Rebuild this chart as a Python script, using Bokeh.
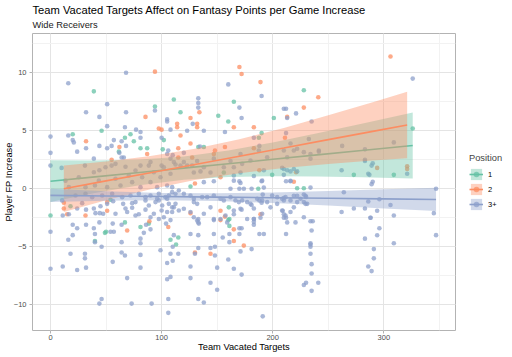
from bokeh.plotting import figure
from bokeh.layouts import row
from bokeh.models import (ColumnDataSource, Legend, LegendItem, Title, Range1d,
                          SingleIntervalTicker)
from bokeh.embed import file_html
from bokeh.resources import INLINE

# ---------------- data ----------------
groups = ["1", "2", "3+"]
colors = ["#66C2A5", "#FC8D62", "#8DA0CB"]

g1_pts = [(20,4.7),(39,8.4),(46,5.0),(67,4.4),(72,4.7),(75,4.1),(81,3.5),(87,3.5),(94,7.1),(102,4.2),
          (101,3.4),(111,7.7),(117,6.6),(133,3.6),(138,3.6),(151,6.3),(160,5.8),(165,7.5),(190,4.8),(187.5,4.4),
          (201,6.1),(228,8.5),(326,5.2),(273,1.2),(309,1.2),(61.5,3.2),(156,1.4),(126,0.2),(199.5,1.2),(222,0.05),
          (228,0.05),(187,0.0),(0,-2.3),(18,-1.5),(54,-0.95),(67,-2.9),(49,-3.8),(50,-3.7),(40,-4.5),(81,-3.3),
          (88.5,-3.0),(108,-4.4),(113,-4.8),(115,-4.2),(160,-2.7),(161,-2.6),(161,-3.2),(160.5,-1.6)]

g2_pts = [(32,4.1),(55,2.5),(62,3.6),(85.5,6.2),(87,3.0),(94,10.1),(97.5,5.2),(100,5.1),(114,5.3),(114,5.6),
          (115,3.5),(115,2.7),(117,4.6),(126,6.1),(126,3.9),(132,5.6),(132,5.3),(134,6.6),(148,3.3),(157,3.6),
          (165,5.3),(170,10.5),(172,9.9),(189,9.2),(183,5.3),(183,3.5),(213,6.2),(211,4.4),(228,7.0),(241,7.9),
          (306,11.4),(321,1.95),(321,1.7),(294,1.8),(127.5,2.7),(147,3.0),(130,0.45),(153,1.0),(219,0.6),(221,1.43),
          (188,1.6),(12,-1.2),(12,-1.7),(15,-2.2),(31.5,-2.3),(51,-1.9),(51,-1.15),(69,-3.6),(89,-2.8),(106,-3.3),
          (126,-2.1),(130,-5.5),(144,-5.6),(153,-1.9),(153,-2.7),(157,-2.4),(165,-3.5),(165,-4.5),(174,-4.9),(189,-2.2)]

g3_pts = [
    # upper area
    (0,4.5),(0,3.1),(0,2.0),(16,9.1),(16,4.6),(20,4.2),(21,4.0),(24,3.2),(32,6.6),(32,3.5),
    (39,2.6),(44,6.2),(44,3.7),(51,7.3),(51,5.4),(51,3.5),(55,3.7),(57,4.2),(62,3.1),(64,4.1),
    (64,2.7),(66,2.7),(68,10.0),(68,6.6),(67,5.3),(68,3.7),(77,5.1),(81,4.9),(81,4.4),(94,6.75),
    (100,4.4),(105,5.8),(105,6.0),(106,3.3),(105,3.0),(108,5.1),(120,3.1),(123,5.0),(128,5.6),(133,7.8),
    (133,7.4),(133,7.0),(138,5.0),(157,4.9),(160,9.0),(170,7.0),(172,6.1),(190,8.0),(183,4.4),(188,3.7),
    (210,6.9),(212,6.9),(213,6.1),(212,4.8),(221,6.5),(235,5.8),(326,9.5),(134.5,3.65),(110,2.9),
    # band region
    (13.5,0.7),(16.5,0.14),(25.5,1.0),(31.5,0.14),(39,1.43),(40,0.28),(43.5,0.7),(49.5,1.86),(51,0.14),(58.5,2.15),
    (58.5,0.86),(63,0.28),(67.5,1.9),(70.5,1.15),(73.5,0.57),(76.5,1.58),(81,0.14),(82.5,1.0),(88.5,2.0),(90,0.57),
    (93,1.43),(96,0.14),(99,1.0),(102,1.86),(105,0.28),(108,1.29),(111,2.3),(109.5,0.14),(10,1.8),(31,2.0),
    (44,1.6),(55,2.0),(81,2.0),(90,2.3),(100,2.0),(108,2.6),(120,2.3),(127.5,2.0),(132,2.4),(138,1.86),
    (147,2.6),(156,1.86),(162,2.4),(112.5,2.1),(117,2.0),(123,2.0),(129,1.4),(135,1.5),(144,1.4),(138,0.57),
    (147,0.65),(165,1.86),(171,3.0),(172.5,2.15),(180,2.44),(187.5,3.3),(195,2.72),(210,3.3),(213,2.72),(219,3.3),
    (222,3.45),(228,3.16),(232.5,4.3),(234,3.0),(234,2.6),(241.5,3.3),(216,3.9),(210,1.7),(213,1.6),(210,1.2),
    (219,1.7),(216,0.7),(234,0.1),(192,1.6),(183,1.1),(190.5,0.7),(171,1.4),(165,1.15),(165,0.7),(171,0.5),
    (208.5,1.8),(216,1.5),(222,1.5),(262.5,3.7),(283,3.4),(309,4.0),(241.5,3.2),(283,2.4),(289,2.0),(262,1.6),
    (286,1.3),(321,1.3),(283,2.5),(287,1.2),(290,2.2),(290,0.6),(289,0.4),
    (170,0.0),(174,0.0),(181,0.0),(192,0.1),(162,0.0),(170,0.65),(190,0.65),(212,0.65),(216,0.65),
    # around the 3+ line
    (10.5,-1.0),(28.5,-1.24),(32,-1.8),(40.5,-2.1),(44.4,-2.1),(45,-1.5),(51,-1.3),(56.4,-1.07),(65.4,-1.3),(67.5,-1.7),
    (69,-2.0),(73.5,-1.24),(73.5,-1.64),(76.5,-1.15),(76.5,-2.3),(79.5,-2.2),(85.5,-1.0),(85.5,-1.8),(88.5,-1.44),(94.5,-1.15),
    (96,-0.86),(97.5,-1.0),(100.5,-1.44),(100,-1.87),(103.5,-0.72),(105,-0.86),(106.5,-1.3),(109.5,-1.6),(102,-2.45),(105,-2.0),
    (90,-2.45),(93,-2.15),(97.5,-2.6),(112.5,-1.3),(109.5,-2.0),(108,-2.7),
    (22.5,-0.58),(31.5,-0.43),(37.5,-0.72),(46.5,-0.58),(55.5,-0.43),(64.5,-0.72),(72,-0.58),(79.5,-0.43),(85.5,-0.72),(90,-0.58),
    (97.5,-0.43),(106.5,-0.58),(11,-2.3),(16.5,-2.2),(24,-1.7),(39,-1.7),(47.4,-2.15),(58.5,-2.15),
    (109.5,-0.29),(112.5,-0.43),(115.5,-0.15),(120,-0.43),(126,-0.58),(129,-0.86),(129,-1.15),(132,-1.3),(136.5,-0.72),(141,-0.72),
    (147,-0.58),(153,-0.86),(156,-1.0),(162,-0.72),(166.5,-1.0),(169.5,-1.15),(172.5,-1.0),(177,-1.15),(180,-1.3),(186,-0.86),
    (190.5,-1.0),(195,-1.15),(199.5,-0.58),(204,-0.72),(208.5,-0.86),(211.5,-0.72),(216,-1.0),(222,-1.15),(225,-0.86),(228,-1.15),
    (231,-1.3),(111,-1.6),(115.5,-1.87),(120,-1.72),(126,-2.0),(129,-2.45),(132,-2.73),(133.5,-3.0),(138,-2.15),(144,-1.6),
    (147,-2.6),(153,-2.6),(157.5,-2.3),(159,-2.9),(165,-1.87),(171,-1.72),(177,-2.6),(183,-2.6),(190.5,-2.15),(198,-1.6),
    (204,-1.3),(208.5,-1.87),(211.5,-2.3),(216,-2.0),(220.5,-2.9),(228,-2.45),
    (165,-2.2),(172,-1.8),(181,-1.4),(183,-1.7),(188,-1.0),(190,-1.2),(189,-2.5),(191,-0.5),(209,-1.9),(210,-2.2),
    (212,-2.5),(219,-1.6),(228,-0.5),(230,-0.7),(219,-0.6),(222,-0.6),(210,-0.8),(210,-1.0),(264,-0.3),(262,-2.0),
    (273,-1.7),(283,-1.7),(286,-1.1),(288,-2.5),(294,-1.9),(296,-0.9),(306,-1.4),(309,-2.3),(347,0.0),(345,-2.1),
    (229.5,-0.6),(229.5,-1.3),(183,-2.85),(183,-3.1),(172,-3.4),
    # lower area
    (0,-3.7),(0,-6.9),(11,-6.7),(16,-4.4),(18,-5.6),(20,-3.1),(20,-4.0),(24,-3.4),(24,-7.0),(31,-5.6),
    (31,-6.0),(32,-3.1),(32,-6.8),(39,-3.4),(40,-3.9),(40,-4.6),(44,-2.9),(46,-5.0),(44,-9.9),(46,-9.5),
    (54,-3.7),(57,-3.7),(56,-3.0),(56,-6.3),(64,-3.1),(64,-4.6),(64,-5.5),(67,-5.75),(69,-7.7),(73,-9.9),
    (81,-4.3),(81,-4.7),(81,-5.7),(81,-6.8),(84,-3.8),(86,-3.1),(90,-3.5),(91,-9.9),(99,-5.3),(104,-3.0),
    (105,-6.4),(105,-7.8),(108,-7.6),(106,-9.5),(106,-10.7),(108,-5.6),(110,-5.0),(110,-6.2),(111,-4.0),(115,-5.6),
    (126,-3.9),(126,-6.7),(126,-7.7),(130,-5.6),(133,-5.1),(133,-4.0),(133,-2.9),(133,-2.6),(133,-9.5),(138,-9.8),
    (144,-5.1),(144,-8.1),(147,-2.7),(147,-3.9),(148,-5.0),(148,-5.75),(150,-6.8),(150,-8.7),(155,-4.2),(161,-3.9),
    (161,-4.6),(160,-6.1),(165,-6.9),(170,-3.4),(170,-3.9),(172,-7.4),(171,-5.4),(181,-5.2),(183,-2.6),(188,-3.9),
    (192,-3.9),(191,-11.0),(210,-2.5),(213,-2.9),(212,-3.9),(234,-2.8),(236,-2.8),(235,-3.6),(234,-4.7),(234,-4.8),
    (234,-5.0),(234,-5.6),(235,-6.5),(235,-7.3),(230,-8.1),(228,-8.3),(241,-8.1),(235,-8.8),(288,-2.5),(296,-3.4),
    (294,-4.0),(283,-4.3),(309,-4.7),(291,-5.2),(291,-6.0),(286,-6.7),(289,-7.1),(347,-4.0),
]

# fitted lines with 95% bands
g1_fit_x  = [0, 40, 80, 120, 160, 200, 240, 280, 326]
g1_fit_y  = [0.65, 1.03, 1.41, 1.78, 2.16, 2.54, 2.92, 3.30, 3.73]
g1_fit_lo = [-1.15, -0.37, 0.30, 0.78, 1.02, 1.08, 1.05, 0.99, 0.88]
g1_fit_hi = [2.45, 2.43, 2.52, 2.78, 3.30, 4.00, 4.79, 5.61, 6.58]

g2_fit_x  = [12, 50, 90, 130, 170, 210, 250, 290, 321]
g2_fit_y  = [0.0, 0.68, 1.39, 2.10, 2.81, 3.52, 4.24, 4.95, 5.50]
g2_fit_lo = [-2.0, -0.99, -0.04, 0.75, 1.34, 1.79, 2.14, 2.43, 2.63]
g2_fit_hi = [2.0, 2.35, 2.82, 3.45, 4.28, 5.25, 6.34, 7.47, 8.37]

g3_fit_x  = [0, 50, 100, 150, 200, 250, 300, 347]
g3_fit_y  = [-0.57, -0.62, -0.67, -0.72, -0.77, -0.82, -0.87, -0.92]
g3_fit_lo = [-1.14, -1.03, -0.98, -1.05, -1.23, -1.45, -1.69, -1.92]
g3_fit_hi = [0.0, -0.21, -0.36, -0.39, -0.31, -0.19, -0.05, 0.08]

x_ticks_interval = 100
y_ticks_interval = 5

# ---------------- main figure ----------------
FONT = "Liberation Sans"
p = figure(width=456, height=357, output_backend="svg", toolbar_location=None,
           x_range=Range1d(-16.2, 364.5), y_range=Range1d(-12.22, 13.39),
           min_border_left=32, min_border_right=1, min_border_top=33, min_border_bottom=27,
           x_axis_label="Team Vacated Targets", y_axis_label="Player FP Increase")
p.title.visible = False
p.background_fill_color = "white"
p.border_fill_color = "white"
p.outline_line_color = "#b3b3b3"
p.outline_line_width = 1

for ax, iv in ((p.xaxis[0], x_ticks_interval), (p.yaxis[0], y_ticks_interval)):
    ax.ticker = SingleIntervalTicker(interval=iv, num_minor_ticks=2)
    ax.axis_line_color = None
    ax.major_tick_line_color = "#b3b3b3"
    ax.major_tick_out = 3
    ax.major_tick_in = 0
    ax.minor_tick_line_color = None
    ax.major_label_text_font = FONT
    ax.major_label_text_font_size = "7.5px"
    ax.major_label_text_color = "#4d4d4d"
    ax.axis_label_text_font = FONT
    ax.axis_label_text_font_size = "9.3px"
    ax.axis_label_text_font_style = "normal"
    ax.axis_label_text_color = "#000000"

p.xaxis[0].major_label_standoff = 0
p.xaxis[0].axis_label_standoff = -1
p.yaxis[0].major_label_standoff = 2
p.yaxis[0].axis_label_standoff = -3

for g in (p.xgrid[0], p.ygrid[0]):
    g.grid_line_color = "#e4e4e4"
    g.grid_line_width = 1
    g.minor_grid_line_color = "#f2f2f2"
    g.minor_grid_line_width = 1

# points
pts = [g1_pts, g2_pts, g3_pts]
for data, c in zip(pts, colors):
    src = ColumnDataSource(dict(x=[d[0] for d in data], y=[d[1] for d in data]))
    p.scatter("x", "y", source=src, size=4.6, fill_color=c, fill_alpha=0.75, line_color=None)

# smooths
fits = [(g1_fit_x, g1_fit_y, g1_fit_lo, g1_fit_hi),
        (g2_fit_x, g2_fit_y, g2_fit_lo, g2_fit_hi),
        (g3_fit_x, g3_fit_y, g3_fit_lo, g3_fit_hi)]
fit_sources = []
for c, (fx, fy, lo, hi) in zip(colors, fits):
    src = ColumnDataSource(dict(x=fx, y=fy, lo=lo, hi=hi))
    fit_sources.append(src)
    p.varea(x="x", y1="lo", y2="hi", source=src, fill_color=c, fill_alpha=0.4)
    p.line(x="x", y="y", source=src, line_color=c, line_width=1.6)

# titles
p.add_layout(Title(text="Wide Receivers", text_font=FONT, text_font_size="9.3px",
                   text_font_style="normal", text_color="#1a1a1a", align="left", standoff=7), "above")
p.add_layout(Title(text="Team Vacated Targets Affect on Fantasy Points per Game Increase",
                   text_font=FONT, text_font_size="11.2px", text_font_style="normal",
                   text_color="#000000", align="left", standoff=-3), "above")

# ---------------- legend strip at the right ----------------
# its ranges are far away from the data, so its renderers only feed the legend keys
lg = figure(width=56, height=357, output_backend="svg", toolbar_location=None,
            x_range=Range1d(1000, 1001), y_range=Range1d(1000, 1001), min_border=0)
lg.title.visible = False
lg.axis.visible = False
lg.grid.visible = False
lg.outline_line_color = None
lg.background_fill_color = "white"
lg.border_fill_color = "white"

items = []
for name, c, src in zip(groups, colors, fit_sources):
    kb = lg.varea(x="x", y1="lo", y2="hi", source=src, fill_color=c, fill_alpha=0.4)
    kl = lg.line(x="x", y="y", source=src, line_color=c, line_width=1.6)
    kd = lg.scatter(x="x", y="y", source=src, size=4.6, fill_color=c, fill_alpha=0.75, line_color=None)
    items.append(LegendItem(label=name, renderers=[kb, kl, kd], index=0))

legend = Legend(items=items, title="Position", location=(13, 119),
                title_text_font=FONT, title_text_font_size="9.3px", title_text_font_style="normal",
                label_text_font=FONT, label_text_font_size="7.5px", label_text_color="#000000",
                glyph_width=14, glyph_height=14, label_height=14, label_width=10, spacing=1, padding=0,
                margin=0, label_standoff=5, title_standoff=4,
                border_line_color=None, background_fill_alpha=0)
lg.add_layout(legend)

layout = row(p, lg, spacing=0)
open("out.html", "w").write(file_html(layout, INLINE))
